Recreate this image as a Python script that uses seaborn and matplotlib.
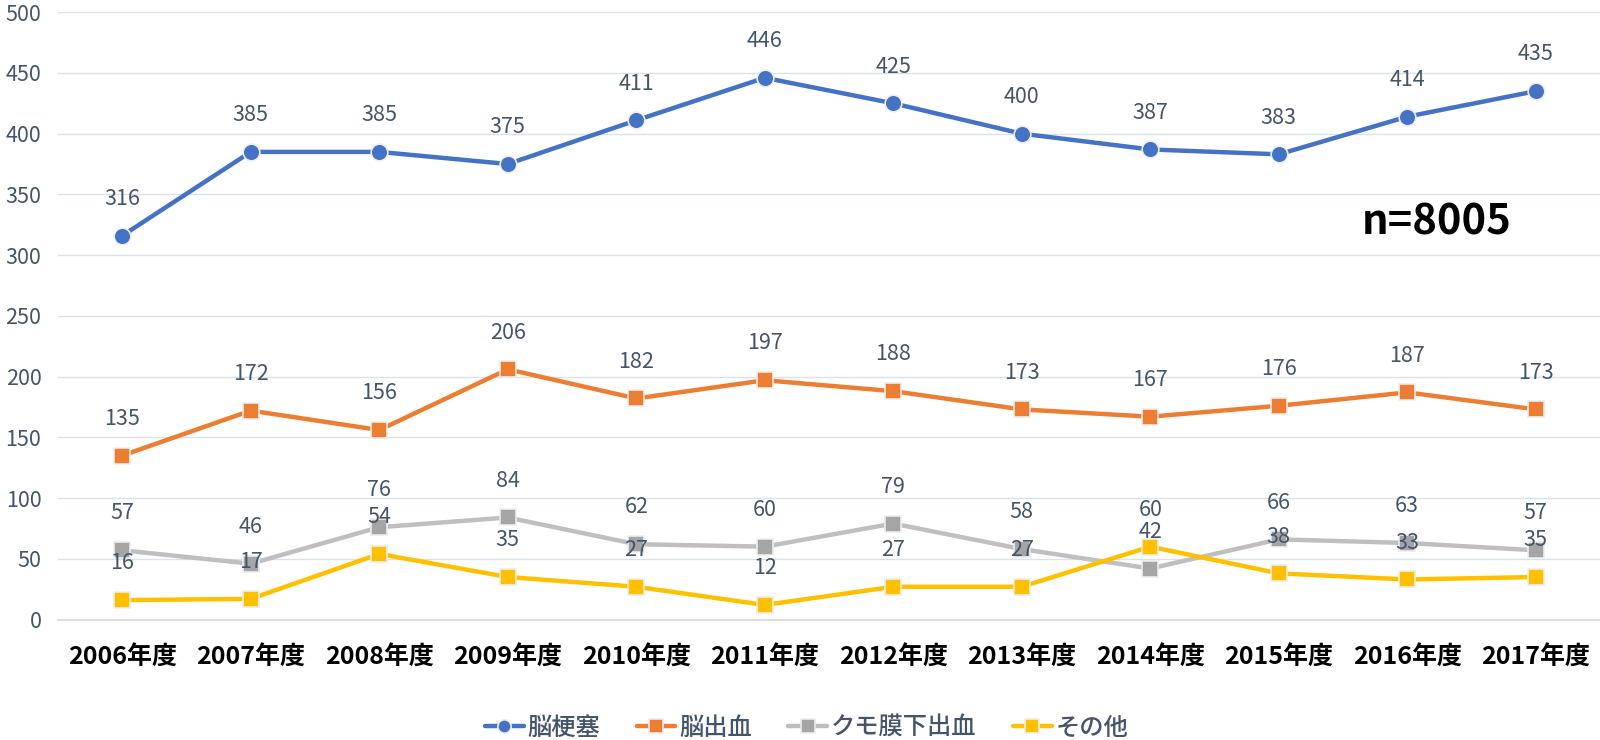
import matplotlib
matplotlib.use("Agg")
import matplotlib.pyplot as plt
import seaborn as sns
import pandas as pd
from matplotlib.ticker import FixedLocator

years = ["2006年度", "2007年度", "2008年度", "2009年度", "2010年度", "2011年度",
         "2012年度", "2013年度", "2014年度", "2015年度", "2016年度", "2017年度"]
infarction = [316, 385, 385, 375, 411, 446, 425, 400, 387, 383, 414, 435]
hemorrhage = [135, 172, 156, 206, 182, 197, 188, 173, 167, 176, 187, 173]
subarachnoid = [57, 46, 76, 84, 62, 60, 79, 58, 42, 66, 63, 57]
other = [16, 17, 54, 35, 27, 12, 27, 27, 60, 38, 33, 35]
series_names = ["脳梗塞", "脳出血", "クモ膜下出血", "その他"]

sns.set_theme(style="white")
plt.rcParams['font.family'] = ['Noto Sans CJK JP', 'DejaVu Sans']

rows = []
for name, vals in zip(series_names, [infarction, hemorrhage, subarachnoid, other]):
    for y, v in zip(years, vals):
        rows.append({"year": y, "value": v, "series": name})
df = pd.DataFrame(rows)

colors = {"脳梗塞": "#4472C4", "脳出血": "#ED7D31", "クモ膜下出血": "#A5A5A5", "その他": "#FFC000"}
line_colors = {"脳梗塞": "#4472C4", "脳出血": "#ED7D31", "クモ膜下出血": "#BFBFBF", "その他": "#FFC000"}
markers = {"脳梗塞": "o", "脳出血": "s", "クモ膜下出血": "s", "その他": "s"}

fig = plt.figure(figsize=(16, 7.4), dpi=100)
ax = fig.add_axes([0.03625, 0.1628, 1.0 - 0.03625, 0.9835 - 0.1628])

label_color = "#44546A"
for name in series_names:
    sub = df[df.series == name]
    sns.lineplot(data=sub, x="year", y="value", ax=ax, color=line_colors[name],
                 linewidth=3.2, marker=markers[name], markersize=12,
                 markerfacecolor=colors[name], markeredgecolor="#EDEDED",
                 markeredgewidth=1.2, label=name, sort=False)
    for i, (y, v) in enumerate(zip(sub.year, sub.value)):
        ax.annotate(str(v), (i, v), xytext=(0, 26.5), textcoords="offset points",
                    ha="center", va="center", fontsize=15.5, color=label_color)

ax.set_ylim(0, 500)
ax.set_xlim(-0.5, len(years) - 0.5)
ax.set_yticks(range(0, 501, 50))
ax.grid(axis="y", color="#D9E1EA", linewidth=1)
ax.set_axisbelow(True)
for s in ["top", "right", "left"]:
    ax.spines[s].set_visible(False)
ax.spines["bottom"].set_color("#D9D9D9")
ax.spines["bottom"].set_linewidth(1.2)
ax.set_xlabel("")
ax.set_ylabel("")
ax.tick_params(axis="y", length=0, labelsize=15.5, labelcolor=label_color, pad=12)
ax.tick_params(axis="x", which="major", length=0, labelsize=18, labelcolor="black", pad=19)
ax.xaxis.set_minor_locator(FixedLocator([i - 0.5 for i in range(len(years) + 1)]))
ax.tick_params(axis="x", which="minor", length=8, color="#D9D9D9", width=1.2)
for t in ax.get_xticklabels():
    t.set_fontweight("bold")

ax.text(10.23, 327, "n=8005", fontsize=30, fontweight="bold", color="black",
        ha="center", va="center")

leg = ax.legend(loc="center", bbox_to_anchor=(0.504, 0.0165), bbox_transform=fig.transFigure,
                ncol=4, frameon=False, fontsize=17.5, handlelength=1.6, columnspacing=1.5,
                handletextpad=0.15, borderpad=0, markerscale=0.8)
for t in leg.get_texts():
    t.set_color(label_color)
    t.set_fontweight("medium")

fig.savefig("out.png", dpi=100)
